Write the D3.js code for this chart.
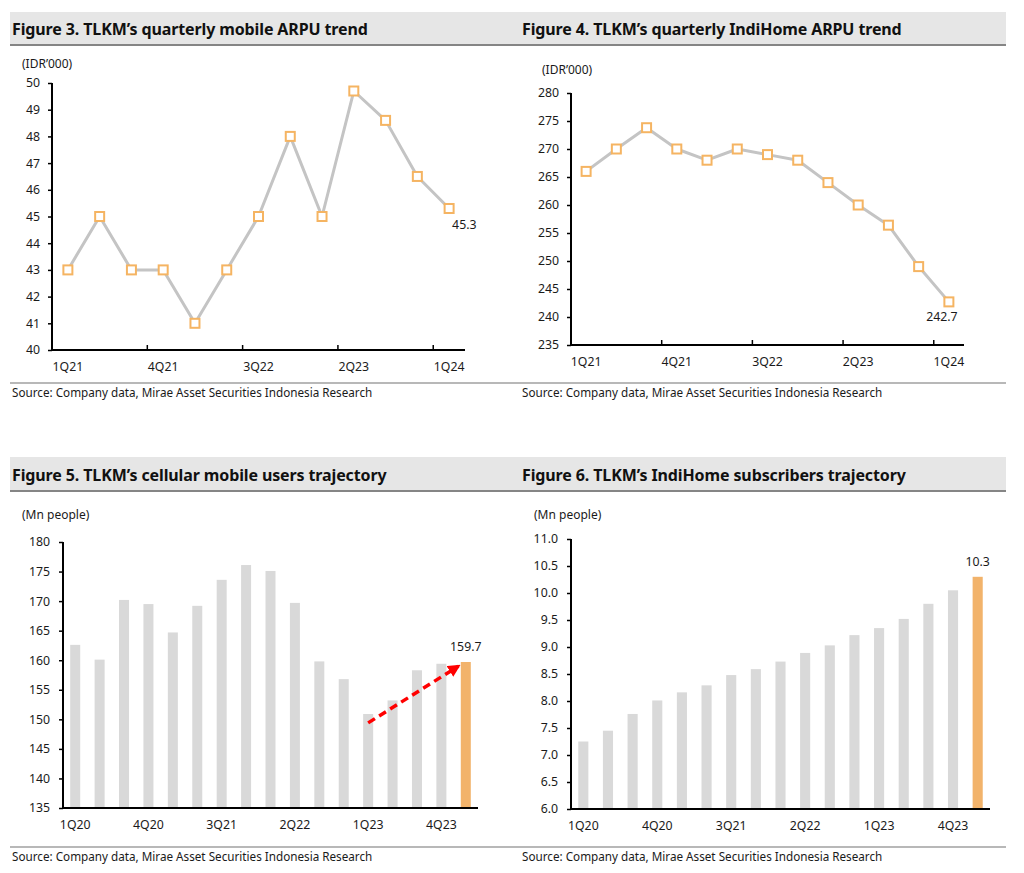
<!DOCTYPE html>
<html><head><meta charset="utf-8">
<script src="https://cdn.jsdelivr.net/npm/d3@7"></script>
<style>
html,body{margin:0;padding:0;background:#fff;}
svg{display:block;font-family:"Noto Sans","Open Sans",sans-serif;}
</style></head>
<body>
<svg id="c" width="1024" height="873"></svg>
<script>
// ---------- data ----------
const arpuQuarters = ["1Q21","2Q21","3Q21","4Q21","1Q22","2Q22","3Q22","4Q22","1Q23","2Q23","3Q23","4Q23","1Q24"];
const mobileArpu = [43, 45, 43, 43, 41, 43, 45, 48, 45, 49.7, 48.6, 46.5, 45.3];
const indiHomeArpu = [266, 270, 273.8, 270, 268, 270, 269, 268, 264, 260, 256.4, 249, 242.7];
const arpuTickLabels = ["1Q21","4Q21","3Q22","2Q23","1Q24"];

const subsQuarters = ["1Q20","2Q20","3Q20","4Q20","1Q21","2Q21","3Q21","4Q21","1Q22","2Q22","3Q22","4Q22","1Q23","2Q23","3Q23","4Q23","1Q24"];
const mobileUsers = [162.6, 160.1, 170.2, 169.5, 164.7, 169.2, 173.6, 176.1, 175.1, 169.7, 159.8, 156.8, 150.9, 153.2, 158.3, 159.4, 159.7];
const indiHomeSubs = [7.25, 7.45, 7.76, 8.01, 8.16, 8.29, 8.48, 8.59, 8.73, 8.89, 9.03, 9.22, 9.35, 9.52, 9.80, 10.05, 10.3];
const subsTickLabels = ["1Q20","4Q20","3Q21","2Q22","1Q23","4Q23"];

const mobileArpuTicks = [40,41,42,43,44,45,46,47,48,49,50];
const indiArpuTicks = [235,240,245,250,255,260,265,270,275,280];
const mobileUserTicks = [135,140,145,150,155,160,165,170,175,180];
const indiSubsTicks = [6.0,6.5,7.0,7.5,8.0,8.5,9.0,9.5,10.0,10.5,11.0];

// trend arrow (category index, value) on Figure 5
const trendArrow = [[12, 149.4], [15.7, 159.0]];

const titles = [
  "Figure 3. TLKM\u2019s quarterly mobile ARPU trend",
  "Figure 4. TLKM\u2019s quarterly IndiHome ARPU trend",
  "Figure 5. TLKM\u2019s cellular mobile users trajectory",
  "Figure 6. TLKM\u2019s IndiHome subscribers trajectory"
];
const sourceText = "Source: Company data, Mirae Asset Securities Indonesia Research";

// ---------- styles ----------
const C = {
  bar: "#d9d9d9", accent: "#f2b36b", line: "#c4c4c4", marker: "#f5b462",
  titleBg: "#e6e6e6", titleRule: "#858585", srcRule: "#a0a0a0", text: "#1a1a1a"
};
const TICK_FS = 12.3;

const svg = d3.select("#c");

// ---------- title bars & source lines ----------
function header(y0, y1, tLeft, tRight) {
  svg.append("rect").attr("x", 10).attr("y", y0).attr("width", 996).attr("height", y1 - y0).attr("fill", C.titleBg);
  svg.append("line").attr("x1", 10).attr("x2", 1006).attr("y1", y1).attr("y2", y1)
    .attr("stroke", C.titleRule).attr("stroke-width", 2);
  const by = y1 - 10;
  [[12, tLeft], [522, tRight]].forEach(([x, t]) => {
    svg.append("text").attr("x", x).attr("y", by).attr("font-size", 16).attr("font-weight", 700)
      .attr("fill", "#111").attr("letter-spacing", -0.12).text(t);
  });
}
function footer(y) {
  svg.append("line").attr("x1", 10).attr("x2", 1006).attr("y1", y).attr("y2", y)
    .attr("stroke", C.srcRule).attr("stroke-width", 1.5);
  [12, 522].forEach(x => {
    svg.append("text").attr("x", x).attr("y", y + 14).attr("font-size", 11.7)
      .attr("fill", C.text).text(sourceText);
  });
}
header(12, 45, titles[0], titles[1]);
header(457, 491, titles[2], titles[3]);
footer(383);
footer(847);

// ---------- common axes ----------
function yAxis(g, y, x0, ticks, fmt, pad) {
  const ax = g.append("g").attr("transform", `translate(${x0},0)`)
    .call(d3.axisLeft(y).tickValues(ticks).tickSize(4).tickPadding(pad).tickFormat(fmt));
  ax.select(".domain").remove();
  ax.selectAll(".tick line").attr("stroke", "#000").attr("stroke-width", 1.5);
  ax.selectAll("text").attr("font-size", TICK_FS).attr("fill", C.text).attr("font-family", "Noto Sans");
  const [a, b] = y.range();
  g.append("line").attr("x1", x0).attr("x2", x0).attr("y1", b).attr("y2", a)
    .attr("stroke", "#000").attr("stroke-width", 2);
}
function xAxis(g, x, y0, labels, innerTicks, labelOffset) {
  const ax = g.append("g").attr("transform", `translate(0,${y0})`)
    .call(d3.axisBottom(x).tickValues(labels).tickSize(0).tickPadding(labelOffset));
  ax.select(".domain").remove();
  ax.selectAll("text").attr("font-size", TICK_FS).attr("fill", C.text).attr("font-family", "Noto Sans");
  innerTicks.forEach(xv => {
    g.append("line").attr("x1", xv).attr("x2", xv).attr("y1", y0).attr("y2", y0 - 5)
      .attr("stroke", "#000").attr("stroke-width", 1.5);
  });
  const [r0, r1] = x.range();
  g.append("line").attr("x1", r0).attr("x2", r1).attr("y1", y0).attr("y2", y0)
    .attr("stroke", "#000").attr("stroke-width", 2);
}

// ---------- line panel ----------
function linePanel(cfg) {
  const g = svg.append("g");
  const x = d3.scaleBand().domain(cfg.cats).range(cfg.xr).padding(0);
  const y = d3.scaleLinear().domain(cfg.yd).range(cfg.yr);
  const cx = c => x(c) + x.bandwidth() / 2;
  g.append("text").attr("x", cfg.unitX).attr("y", cfg.unitY).attr("font-size", 12).attr("fill", C.text).text(cfg.unit);
  yAxis(g, y, cfg.xr[0], cfg.ticks, cfg.fmt, 8);
  const inner = cfg.cats.filter((c, i) => i > 0 && i % 3 === 0).map(c => x(c));
  xAxis(g, x, cfg.yr[0], cfg.labels, inner, 12);
  const pts = cfg.cats.map((c, i) => [cx(c), y(cfg.vals[i])]);
  g.append("path").attr("d", d3.line()(pts)).attr("fill", "none")
    .attr("stroke", C.line).attr("stroke-width", 3).attr("stroke-linejoin", "round");
  g.selectAll("rect.m").data(pts).join("rect").attr("class", "m")
    .attr("x", d => d[0] - 4.5).attr("y", d => d[1] - 4.5).attr("width", 9).attr("height", 9)
    .attr("fill", "#fff").attr("stroke", C.marker).attr("stroke-width", 2);
  const last = pts[pts.length - 1];
  g.append("text").attr("x", last[0] + cfg.lblDx).attr("y", last[1] + cfg.lblDy)
    .attr("text-anchor", cfg.lblAnchor).attr("font-size", TICK_FS).attr("fill", C.text)
    .text(d3.format(".1f")(cfg.vals[cfg.vals.length - 1]));
}

linePanel({cats: arpuQuarters, vals: mobileArpu, xr: [52, 465], yr: [350, 83], yd: [40, 50],
  ticks: mobileArpuTicks, fmt: d3.format("d"), labels: arpuTickLabels,
  unit: "(IDR\u2019000)", unitX: 22, unitY: 68, lblDx: 3, lblDy: 21, lblAnchor: "start"});
linePanel({cats: arpuQuarters, vals: indiHomeArpu, xr: [571, 964], yr: [345, 93], yd: [235, 280],
  ticks: indiArpuTicks, fmt: d3.format("d"), labels: arpuTickLabels,
  unit: "(IDR\u2019000)", unitX: 542, unitY: 74, lblDx: -7, lblDy: 19, lblAnchor: "middle"});

// ---------- bar panel ----------
function barPanel(cfg) {
  const g = svg.append("g");
  const x = d3.scaleBand().domain(cfg.cats).range(cfg.xr).paddingInner(0.59).paddingOuter(0.295);
  const y = d3.scaleLinear().domain(cfg.yd).range(cfg.yr);
  g.append("text").attr("x", cfg.unitX).attr("y", cfg.unitY).attr("font-size", 12).attr("fill", C.text).text(cfg.unit);
  const n = cfg.cats.length;
  g.selectAll("rect.b").data(cfg.vals).join("rect").attr("class", "b")
    .attr("x", (d, i) => x(cfg.cats[i])).attr("width", x.bandwidth())
    .attr("y", d => y(d)).attr("height", d => y(cfg.yd[0]) - y(d))
    .attr("fill", (d, i) => i === n - 1 ? C.accent : C.bar);
  yAxis(g, y, cfg.xr[0], cfg.ticks, cfg.fmt, 9);
  xAxis(g, x, cfg.yr[0], cfg.labels, [], 12);
  const lc = cfg.cats[n - 1];
  g.append("text").attr("x", x(lc) + x.bandwidth() / 2).attr("y", y(cfg.vals[n - 1]) - 11)
    .attr("text-anchor", "middle").attr("font-size", TICK_FS).attr("fill", C.text)
    .text(d3.format(".1f")(cfg.vals[n - 1]));
  return {g, x, y};
}

const p5 = barPanel({cats: subsQuarters, vals: mobileUsers, xr: [63, 478], yr: [808, 542], yd: [135, 180],
  ticks: mobileUserTicks, fmt: d3.format("d"), labels: subsTickLabels,
  unit: "(Mn people)", unitX: 22, unitY: 519});
barPanel({cats: subsQuarters, vals: indiHomeSubs, xr: [571, 990], yr: [809, 539], yd: [6, 11],
  ticks: indiSubsTicks, fmt: d3.format(".1f"), labels: subsTickLabels,
  unit: "(Mn people)", unitX: 534, unitY: 519});

// ---------- trend arrow (Figure 5) ----------
svg.append("defs").append("marker").attr("id", "ah").attr("viewBox", "0 0 10 10")
  .attr("refX", 8).attr("refY", 5).attr("markerWidth", 3.6).attr("markerHeight", 3.6)
  .attr("orient", "auto").append("path").attr("d", "M0,0L10,5L0,10Z").attr("fill", "#ff0000");
const ax0 = p5.x.range()[0];
const stp = p5.x.step();
const ap = trendArrow.map(([i, v]) => [ax0 + stp * (i + 0.5), p5.y(v)]);
p5.g.append("path").attr("d", d3.line()(ap)).attr("stroke", "#ff0000").attr("stroke-width", 3.5)
  .attr("stroke-dasharray", "8,5").attr("fill", "none").attr("marker-end", "url(#ah)");
</script>
</body></html>
